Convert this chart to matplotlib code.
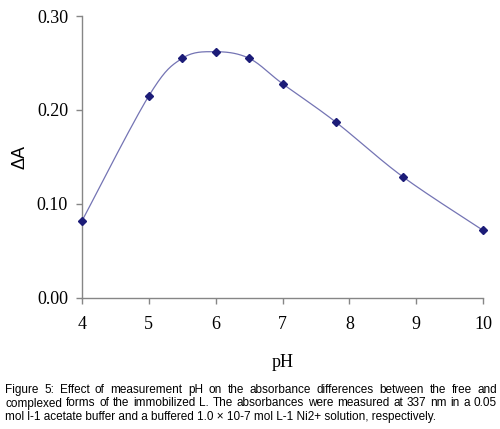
import numpy as np
import matplotlib.pyplot as plt

# data
ph = [4.0, 5.0, 5.5, 6.0, 6.5, 7.0, 7.8, 8.8, 10.0]
delta_a = [0.082, 0.215, 0.255, 0.262, 0.255, 0.228, 0.187, 0.129, 0.072]
yticks = [0.00, 0.10, 0.20, 0.30]
xticks = [4, 5, 6, 7, 8, 9, 10]
caption = [
    "Figure 5: Effect of measurement pH on the absorbance differences between the free and",
    "complexed forms of the immobilized L. The absorbances were measured at 337 nm in a 0.05",
    "mol l-1 acetate buffer and a buffered 1.0 \u00d7 10-7 mol L-1 Ni2+ solution, respectively.",
]


def smooth(xs, ys, sx, sy, n=30):
    # excel-like smoothed line (bezier with control points from neighbours)
    px = np.array(xs) * sx
    py = np.array(ys) * sy
    out_x, out_y = [], []
    k = len(px)
    for i in range(k - 1):
        p0 = np.array([px[max(i - 1, 0)], py[max(i - 1, 0)]])
        p1 = np.array([px[i], py[i]])
        p2 = np.array([px[i + 1], py[i + 1]])
        p3 = np.array([px[min(i + 2, k - 1)], py[min(i + 2, k - 1)]])
        c1 = p1 + (p2 - p0) / 6
        c2 = p2 - (p3 - p1) / 6
        t = np.linspace(0, 1, n)[:, None]
        b = ((1 - t) ** 3) * p1 + 3 * ((1 - t) ** 2) * t * c1 + 3 * (1 - t) * t ** 2 * c2 + t ** 3 * p2
        out_x.extend(b[:, 0] / sx)
        out_y.extend(b[:, 1] / sy)
    return out_x, out_y


fig = plt.figure(figsize=(5.0, 4.29), dpi=100)
ax = fig.add_axes([0.164, 0.3054, 0.802, 0.6573])

cx, cy = smooth(ph, delta_a, 66.8, 940)
ax.plot(cx, cy, color='#7474b4', lw=0.9, zorder=2)
ax.plot(ph, delta_a, ls='none', marker='D', ms=4.5, color='#1c1c78', zorder=3, clip_on=False)

ax.set_xlim(4, 10)
ax.set_ylim(0, 0.30)
ax.set_xticks(xticks)
ax.set_yticks(yticks)
ax.set_yticklabels(['%.2f' % v for v in yticks])
for s in ['top', 'right']:
    ax.spines[s].set_visible(False)
for s in ['left', 'bottom']:
    ax.spines[s].set_color('#868686')
    ax.spines[s].set_linewidth(1.0)
ax.tick_params(colors='#868686', length=4, width=1.0, labelcolor='black')
ax.tick_params(axis='y', pad=6)
ax.tick_params(axis='x', pad=9)
for lab in ax.get_xticklabels() + ax.get_yticklabels():
    lab.set_fontfamily('Liberation Serif')
    lab.set_fontsize(13)

ax.set_xlabel('pH', fontfamily='Liberation Serif', fontsize=13, labelpad=15)
ax.set_ylabel('\u0394A', fontfamily='Liberation Sans', fontsize=13, labelpad=6)

# justified caption
fig.canvas.draw()
r = fig.canvas.get_renderer()
left_px, right_px = 5, 497
fs = 8.45
for li, line in enumerate(caption):
    y = 1 - (393 + li * 13.5) / 429
    words = line.split(' ')
    if li < len(caption) - 1:
        widths = []
        for w in words:
            t = fig.text(0, 0, w, fontsize=fs, fontfamily='Liberation Sans')
            widths.append(t.get_window_extent(r).width)
            t.remove()
        gap = (right_px - left_px - sum(widths)) / (len(words) - 1)
        xpos = left_px
        for w, wd in zip(words, widths):
            fig.text(xpos / 500, y, w, fontsize=fs, fontfamily='Liberation Sans', va='baseline')
            xpos += wd + gap
    else:
        fig.text(left_px / 500, y, line, fontsize=fs, fontfamily='Liberation Sans', va='baseline')

fig.savefig('out.png', dpi=100)
